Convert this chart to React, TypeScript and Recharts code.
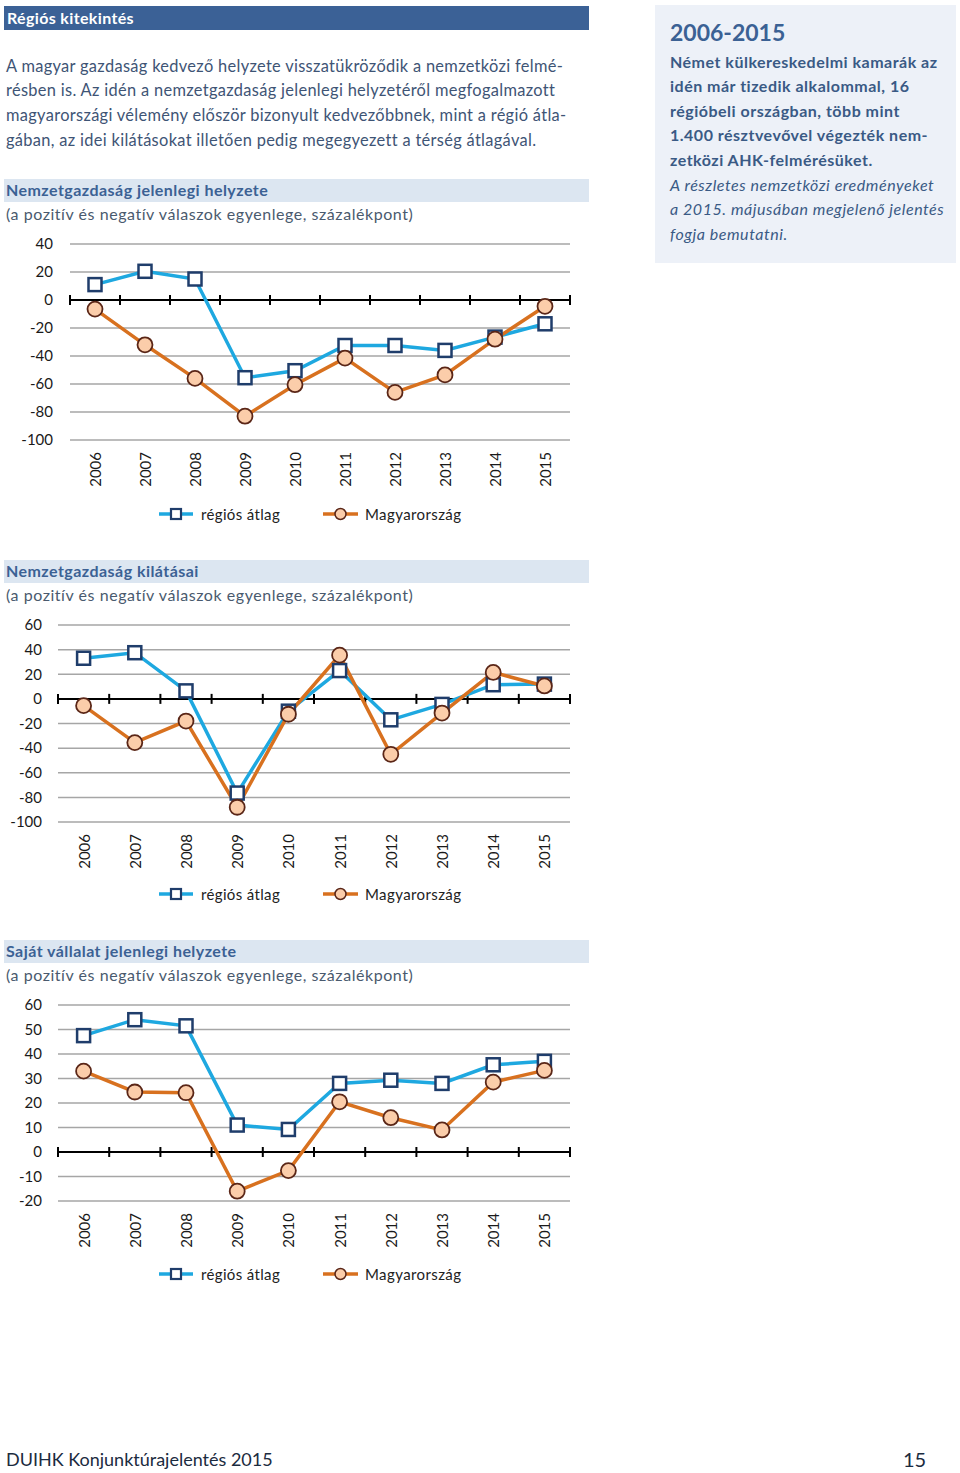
import React from 'react';
import { LineChart, Line, XAxis, YAxis, CartesianGrid, ReferenceLine } from 'recharts';

const years = ['2006', '2007', '2008', '2009', '2010', '2011', '2012', '2013', '2014', '2015'];

const currentRegional = [11, 20.5, 15, -55.5, -50.5, -32.5, -32.5, -36, -26.5, -17];
const currentHungary = [-6.5, -32, -56, -83, -60.5, -41.5, -66, -53.5, -28, -4.5];

const outlookRegional = [33, 37.5, 6.5, -76.5, -10, 23, -17, -4.5, 11.5, 12];
const outlookHungary = [-5.5, -35.5, -18, -88, -12.5, 35.5, -45, -11.5, 21.5, 10.5];

const companyRegional = [47.5, 54, 51.5, 11, 9.2, 28, 29.3, 28, 35.6, 37];
const companyHungary = [33, 24.5, 24.2, -16, -7.6, 20.5, 14, 9, 28.5, 33.3];

const ticksCurrent = [-100, -80, -60, -40, -20, 0, 20, 40];
const ticksOutlook = [-100, -80, -60, -40, -20, 0, 20, 40, 60];
const ticksCompany = [-20, -10, 0, 10, 20, 30, 40, 50, 60];

const seriesNames = ['régiós átlag', 'Magyarország'];

const FONT = 'Lato, "Open Sans", sans-serif';
const BLUE_LINE = '#1ea8e0';
const BLUE_MARK = '#1f3d6b';
const ORANGE_LINE = '#d8711f';
const ORANGE_FILL = '#fbcdaa';
const ORANGE_MARK = '#5a2617';

const SquareDot = (props: any) => {
  const { cx, cy, index } = props;
  if (cx == null || cy == null) return <g key={`sq-${index}`} />;
  return (
    <rect key={`sq-${index}`} x={cx - 6.5} y={cy - 6.5} width={13} height={13}
      fill="#fff" stroke={BLUE_MARK} strokeWidth={2.5} />
  );
};

const CircleDot = (props: any) => {
  const { cx, cy, index } = props;
  if (cx == null || cy == null) return <g key={`ci-${index}`} />;
  return (
    <circle key={`ci-${index}`} cx={cx} cy={cy} r={7.5}
      fill={ORANGE_FILL} stroke={ORANGE_MARK} strokeWidth={1.8} />
  );
};

const YearTick = (props: any) => {
  const { x, y, payload } = props;
  return (
    <text x={x} y={y} transform={`rotate(-90 ${x} ${y})`} textAnchor="end"
      dominantBaseline="central" fontSize={15} fill="#1a1a1a" fontFamily={FONT}>
      {years[payload.value]}
    </text>
  );
};

type PanelProps = {
  top: number;
  plotLeft: number;
  plotHeight: number;
  regional: number[];
  hungary: number[];
  ticks: number[];
};

const Panel = ({ top, plotLeft, plotHeight, regional, hungary, ticks }: PanelProps) => {
  const data = years.map((_, i) => ({ i, regional: regional[i], hungary: hungary[i] }));
  const domain: [number, number] = [ticks[0], ticks[ticks.length - 1]];
  const marginTop = 10;
  const xAxisH = 60;
  const width = 600;
  const height = marginTop + plotHeight + xAxisH;
  const span = domain[1] - domain[0];
  const tickHalf = 5 * span / plotHeight;
  const boundaries = years.map((_, i) => i - 0.5).concat([years.length - 0.5]);
  const yWidth = 50;
  return (
    <div style={{ position: 'absolute', left: 0, top: top - marginTop, width, height }}>
      <LineChart width={width} height={height} data={data}
        margin={{ top: marginTop, right: 30, left: plotLeft - yWidth, bottom: 0 }}>
        <CartesianGrid horizontal vertical={false} stroke="#a6a6a6" strokeWidth={1.5} />
        <XAxis type="number" dataKey="i" domain={[-0.5, years.length - 0.5]}
          ticks={years.map((_, i) => i)} axisLine={false} tickLine={false}
          tickSize={6} tickMargin={6} height={xAxisH} tick={<YearTick />} interval={0} />
        <YAxis type="number" domain={domain} ticks={ticks} width={yWidth}
          axisLine={false} tickLine={false} tickSize={6} tickMargin={plotLeft === 70 ? 11 : 10}
          interval={0}
          tick={{ fontSize: 15, fill: '#1a1a1a', fontFamily: FONT }} />
        <ReferenceLine y={0} stroke="#000" strokeWidth={2} />
        {boundaries.map((b) => (
          <ReferenceLine key={`b${b}`} segment={[{ x: b, y: -tickHalf }, { x: b, y: tickHalf }]}
            stroke="#000" strokeWidth={2} />
        ))}
        <Line type="linear" dataKey="regional" name={seriesNames[0]} stroke={BLUE_LINE}
          strokeWidth={3.5} dot={SquareDot} activeDot={false} isAnimationActive={false} />
        <Line type="linear" dataKey="hungary" name={seriesNames[1]} stroke={ORANGE_LINE}
          strokeWidth={3.5} dot={CircleDot} activeDot={false} isAnimationActive={false} />
      </LineChart>
    </div>
  );
};

const LegendRow = ({ top }: { top: number }) => (
  <div style={{ position: 'absolute', left: 0, top: top - 10, width: 600, height: 20 }}>
    <svg width={600} height={20} style={{ position: 'absolute', left: 0, top: 0 }}>
      <line x1={159} y1={10} x2={193} y2={10} stroke={BLUE_LINE} strokeWidth={3.5} />
      <rect x={171} y={5} width={10} height={10} fill="#fff" stroke={BLUE_MARK} strokeWidth={2.2} />
      <text x={201} y={10} dominantBaseline="central" fontSize={15} fill="#222" fontFamily={FONT}
        letterSpacing={0.35}>{seriesNames[0]}</text>
      <line x1={323} y1={10} x2={358} y2={10} stroke={ORANGE_LINE} strokeWidth={3.5} />
      <circle cx={340.5} cy={10} r={5.5} fill={ORANGE_FILL} stroke={ORANGE_MARK} strokeWidth={1.5} />
      <text x={365} y={10} dominantBaseline="central" fontSize={15} fill="#222" fontFamily={FONT}
        letterSpacing={0.4}>{seriesNames[1]}</text>
    </svg>
  </div>
);

const SectionHead = ({ top, title }: { top: number; title: string }) => (
  <>
    <div style={{ position: 'absolute', left: 4, top, width: 585, height: 23, background: '#dce6f1' }} />
    <div style={{ position: 'absolute', left: 6, top: top - 1, height: 23, lineHeight: '23px', fontSize: 16,
      fontWeight: 700, color: '#3b6194', fontFamily: FONT, whiteSpace: 'nowrap', letterSpacing: 0.45 }}>{title}</div>
    <div style={{ position: 'absolute', left: 6, top: top + 23, height: 23, lineHeight: '23px', fontSize: 16,
      color: '#4a5a6e', fontFamily: FONT, whiteSpace: 'nowrap', letterSpacing: 0.55 }}>
      (a pozitív és negatív válaszok egyenlege, százalékpont)
    </div>
  </>
);

export default function App() {
  return (
    <div style={{ position: 'absolute', left: 0, top: 0, width: 960, height: 1473, background: '#fff',
      fontFamily: FONT, overflow: 'hidden' }}>
      {/* header bar */}
      <div style={{ position: 'absolute', left: 4, top: 6, width: 585, height: 24, background: '#3b6196' }} />
      <div style={{ position: 'absolute', left: 7, top: 6, height: 24, lineHeight: '24px', fontSize: 16,
        fontWeight: 700, color: '#fff', letterSpacing: 0.35 }}>Régiós kitekintés</div>

      {/* paragraph */}
      <div style={{ position: 'absolute', left: 6, top: 53.6, width: 590, fontSize: 16.4, lineHeight: '24.7px',
        color: '#3e5475', whiteSpace: 'nowrap', letterSpacing: 0.32 }}>
        A magyar gazdaság kedvező helyzete visszatükröződik a nemzetközi felmé-<br />
        résben is. Az idén a nemzetgazdaság jelenlegi helyzetéről megfogalmazott<br />
        magyarországi vélemény először bizonyult kedvezőbbnek, mint a régió átla-<br />
        gában, az idei kilátásokat illetően pedig megegyezett a térség átlagával.
      </div>

      {/* side box */}
      <div style={{ position: 'absolute', left: 655, top: 5, width: 301, height: 258, background: '#edf1f8' }} />
      <div style={{ position: 'absolute', left: 670, top: 17, height: 30, lineHeight: '30px', fontSize: 23,
        fontWeight: 700, color: '#3b6194', whiteSpace: 'nowrap' }}>2006-2015</div>
      <div style={{ position: 'absolute', left: 670, top: 49.7, width: 285, fontSize: 16, lineHeight: '24.6px',
        color: '#3a5a85', whiteSpace: 'nowrap' }}>
        <div style={{ fontWeight: 700, letterSpacing: 0.5 }}>
          Német külkereskedelmi kamarák az<br />
          idén már tizedik alkalommal, 16<br />
          régióbeli országban, több mint<br />
          1.400 résztvevővel végezték nem-<br />
          zetközi AHK-felmérésüket.
        </div>
        <div style={{ fontStyle: 'italic', letterSpacing: 0.55 }}>
          A részletes nemzetközi eredményeket<br />
          a 2015. májusában megjelenő jelentés<br />
          fogja bemutatni.
        </div>
      </div>

      <SectionHead top={179} title="Nemzetgazdaság jelenlegi helyzete" />
      <Panel top={244} plotLeft={70} plotHeight={196} regional={currentRegional} hungary={currentHungary} ticks={ticksCurrent} />
      <LegendRow top={514} />

      <SectionHead top={560} title="Nemzetgazdaság kilátásai" />
      <Panel top={625} plotLeft={58} plotHeight={197} regional={outlookRegional} hungary={outlookHungary} ticks={ticksOutlook} />
      <LegendRow top={894} />

      <SectionHead top={940} title="Saját vállalat jelenlegi helyzete" />
      <Panel top={1005} plotLeft={58} plotHeight={196} regional={companyRegional} hungary={companyHungary} ticks={ticksCompany} />
      <LegendRow top={1274} />

      {/* footer */}
      <div style={{ position: 'absolute', left: 6, top: 1447, height: 24, lineHeight: '24px', fontSize: 18,
        color: '#1b2b40', whiteSpace: 'nowrap' }}>DUIHK Konjunktúrajelentés 2015</div>
      <div style={{ position: 'absolute', left: 903, top: 1447, height: 24, lineHeight: '24px', fontSize: 20,
        color: '#1b2b40' }}>15</div>
    </div>
  );
}
